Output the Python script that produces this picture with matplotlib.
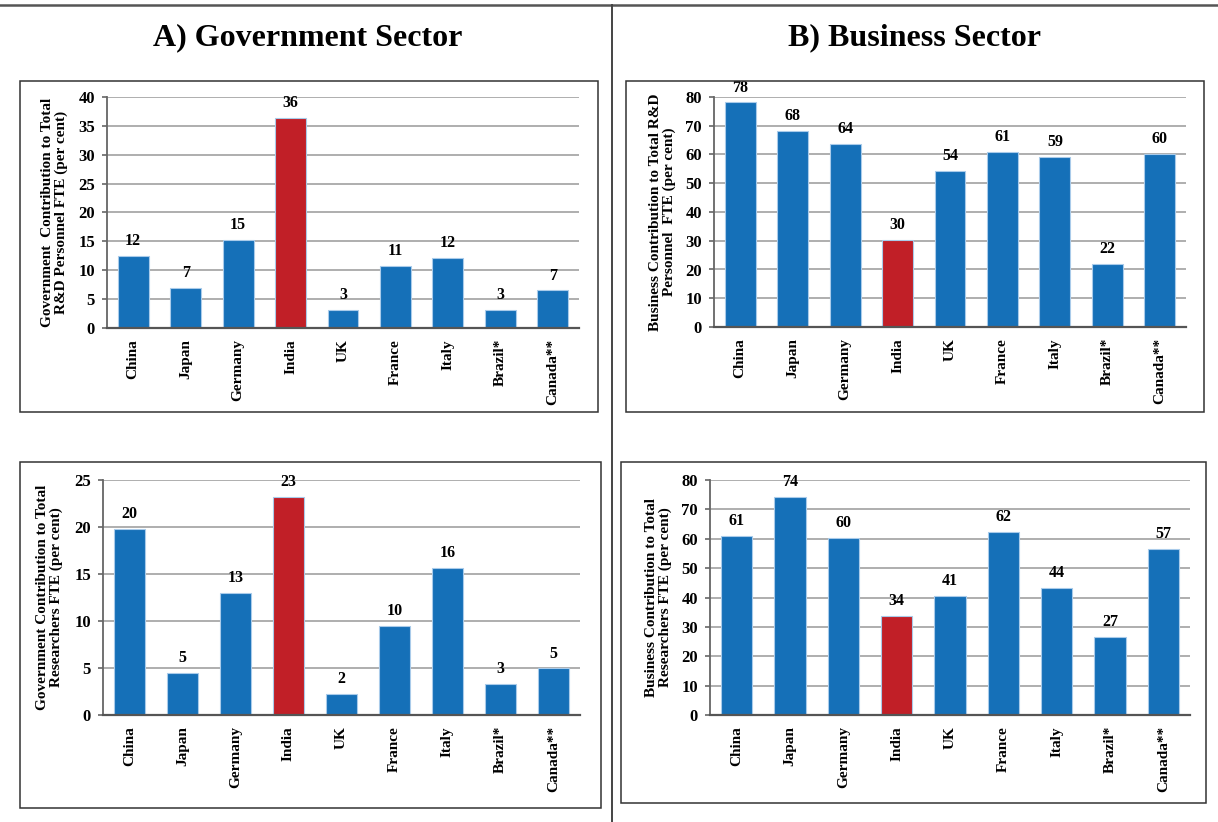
import matplotlib
matplotlib.use("Agg")
import matplotlib.pyplot as plt
from matplotlib.patches import Rectangle
from matplotlib.lines import Line2D

countries = ["China", "Japan", "Germany", "India", "UK", "France", "Italy", "Brazil*", "Canada**"]

gov_personnel = [12.4, 6.9, 15.2, 36.4, 3.1, 10.8, 12.1, 3.1, 6.5]
gov_personnel_labels = ["12", "7", "15", "36", "3", "11", "12", "3", "7"]

bus_personnel = [78.1, 68.1, 63.8, 30.3, 54.3, 60.9, 59.3, 22.0, 60.3]
bus_personnel_labels = ["78", "68", "64", "30", "54", "61", "59", "22", "60"]

gov_researchers = [19.8, 4.45, 13.0, 23.2, 2.2, 9.5, 15.6, 3.35, 4.95]
gov_researchers_labels = ["20", "5", "13", "23", "2", "10", "16", "3", "5"]

bus_researchers = [61.1, 74.2, 60.3, 33.7, 40.5, 62.2, 43.4, 26.5, 56.4]
bus_researchers_labels = ["61", "74", "60", "34", "41", "62", "44", "27", "57"]

titles = ["A) Government Sector", "B) Business Sector"]

ylabels = [
    "Government  Contribution to Total\nR&D Personnel FTE (per cent)",
    "Business Contribution to Total R&D\nPersonnel  FTE (per cent)",
    "Government Contribution to Total\nResearchers FTE (per cent)",
    "Business Contribution to Total\nResearchers FTE (per cent)",
]

BLUE = "#1570B8"
RED = "#C11F27"
W, H = 1218, 822
SERIF = ["Liberation Serif", "DejaVu Serif"]

plt.rcParams["font.family"] = SERIF
plt.rcParams["font.weight"] = "bold"

fig = plt.figure(figsize=(W / 100, H / 100), dpi=100)


def fbox(x0, y0, x1, y1):
    return [x0 / W, 1 - y1 / H, (x1 - x0) / W, (y1 - y0) / H]


# frame lines
fig.add_artist(Line2D([0, 1], [1 - 5 / H, 1 - 5 / H], transform=fig.transFigure,
                      color="#555555", lw=1.8))
fig.add_artist(Line2D([612 / W, 612 / W], [0, 1 - 5 / H], transform=fig.transFigure,
                      color="#444444", lw=1.4))

# panel boxes
boxes = [(20, 81, 598, 412), (626, 81, 1204, 412), (20, 462, 601, 808), (621, 462, 1206, 803)]
for b in boxes:
    x0, y0, x1, y1 = b
    fig.add_artist(Rectangle((x0 / W, 1 - y1 / H), (x1 - x0) / W, (y1 - y0) / H,
                             transform=fig.transFigure, fill=False,
                             edgecolor="#333333", lw=1.1))

fig.text(308 / W, 1 - 38 / H, titles[0], ha="center", va="center",
         fontsize=23, fontweight="bold", family=SERIF)
fig.text(915 / W, 1 - 38 / H, titles[1], ha="center", va="center",
         fontsize=23, fontweight="bold", family=SERIF)

panels = [
    (fbox(107, 97, 579, 328), gov_personnel, gov_personnel_labels, 40, 5, ylabels[0], 55),
    (fbox(714, 97, 1186, 327), bus_personnel, bus_personnel_labels, 80, 10, ylabels[1], 663),
    (fbox(103, 480, 580, 715), gov_researchers, gov_researchers_labels, 25, 5, ylabels[2], 50),
    (fbox(710, 480, 1190, 715), bus_researchers, bus_researchers_labels, 80, 10, ylabels[3], 658),
]

for rect, vals, labs, ymax, step, ylab, ylx in panels:
    ax = fig.add_axes(rect)
    x = list(range(len(countries)))
    colors = [RED if c == "India" else BLUE for c in countries]
    ax.bar(x, vals, width=0.59, color=colors, edgecolor="#A9CBEA",
           linewidth=0.8, zorder=3)
    for xi, v, lab in zip(x, vals, labs):
        ax.annotate(lab, (xi, v), xytext=(0, 5), textcoords="offset points",
                    ha="center", va="bottom", fontsize=11.5, fontweight="bold")
    ax.set_xlim(-0.5, len(countries) - 0.5)
    ax.set_ylim(0, ymax)
    ax.set_yticks(range(0, ymax + 1, step))
    ax.set_xticks(x)
    ax.set_xticklabels(countries, rotation=90, fontsize=11, fontweight="bold")
    ax.tick_params(axis="y", labelsize=12, length=3.6, width=1.2, color="#666666", pad=5)
    ax.tick_params(axis="x", length=0, pad=8)
    for t in ax.get_yticklabels():
        t.set_fontweight("bold")
    ax.yaxis.grid(True, color="#A8A8A8", lw=1.3, zorder=0)
    ax.set_axisbelow(True)
    for s in ["top", "right"]:
        ax.spines[s].set_visible(False)
    ax.spines["left"].set_color("#666666")
    ax.spines["left"].set_linewidth(1.3)
    ax.spines["bottom"].set_color("#555555")
    ax.spines["bottom"].set_linewidth(1.6)
    ax.spines["bottom"].set_zorder(4)
    ax.set_ylabel(ylab, fontsize=11, fontweight="bold", linespacing=1.05)
    ax.yaxis.label.set_va("center")
    pos = ax.get_position()
    ax.yaxis.set_label_coords((ylx / W - pos.x0) / pos.width, 0.5)

fig.savefig("out.png", dpi=100)
